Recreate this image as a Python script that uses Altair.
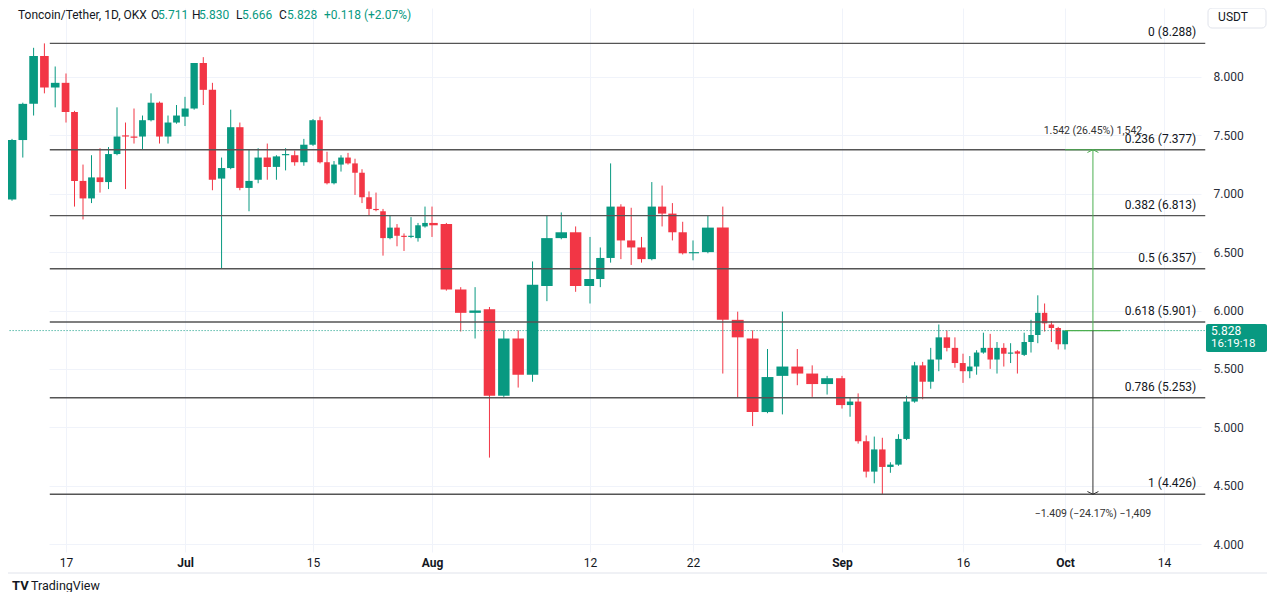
import altair as alt
import pandas as pd

# ---------------- data ----------------
first_day = "2024-06-12"
opens = [6.95, 7.46, 7.77, 8.18, 7.91, 7.95, 7.70, 7.11, 6.96, 7.14,
         7.10, 7.34, 7.50, 7.49, 7.49, 7.63, 7.78, 7.49, 7.61, 7.66,
         7.73, 8.12, 7.89, 7.13, 7.22, 7.57, 7.05, 7.12, 7.31, 7.23,
         7.33, 7.33, 7.27, 7.42, 7.63, 7.27, 7.09, 7.25, 7.31, 7.26,
         7.18, 6.97, 6.87, 6.85, 6.62, 6.71, 6.64, 6.63, 6.62, 6.72,
         6.75, 6.74, 6.18, 5.98, 6.01, 5.27, 5.76, 5.45, 6.21, 6.62,
         6.67, 6.21, 6.27, 6.45, 6.89, 6.60, 6.54, 6.44, 6.89, 6.83,
         6.67, 6.49, 6.50, 6.71, 5.92, 5.76, 5.13, 5.44, 5.52, 5.46,
         5.37, 5.42, 5.19, 5.22, 4.88, 4.62, 4.81, 4.66, 4.68, 4.90,
         5.22, 5.53, 5.39, 5.58, 5.77, 5.68, 5.55, 5.48, 5.52, 5.64,
         5.68, 5.58, 5.68, 5.63, 5.65, 5.62, 5.73, 5.79, 5.98, 5.88,
         5.85, 5.711]
highs = [7.47, 7.78, 8.25, 8.288, 8.09, 8.03, 7.71, 7.25, 7.33, 7.39,
         7.40, 7.74, 7.61, 7.73, 7.67, 7.86, 7.79, 7.67, 7.76, 7.83,
         8.12, 8.17, 7.95, 7.31, 7.72, 7.61, 7.38, 7.39, 7.43, 7.33,
         7.39, 7.37, 7.47, 7.64, 7.66, 7.36, 7.28, 7.33, 7.35, 7.30,
         7.21, 7.02, 7.01, 6.87, 6.81, 6.74, 6.66, 6.80, 6.75, 6.89,
         6.89, 6.75, 6.20, 6.20, 6.03, 5.83, 5.83, 6.42, 6.81, 6.84,
         6.72, 6.63, 6.54, 7.26, 6.91, 6.88, 6.63, 7.10, 7.07, 6.92,
         6.76, 6.60, 6.81, 6.89, 5.99, 5.83, 5.67, 5.99, 5.67, 5.53,
         5.44, 5.44, 5.25, 5.29, 4.93, 4.92, 4.91, 4.70, 4.94, 5.27,
         5.56, 5.56, 5.68, 5.88, 5.83, 5.77, 5.63, 5.61, 5.66, 5.81,
         5.80, 5.73, 5.72, 5.72, 5.66, 5.81, 5.92, 6.13, 6.06, 5.91,
         5.86, 5.830]
lows = [6.94, 7.31, 7.67, 7.86, 7.74, 7.61, 6.89, 6.78, 6.92, 7.01,
        7.04, 7.33, 7.04, 7.43, 7.38, 7.62, 7.43, 7.43, 7.60, 7.58,
        7.72, 7.76, 7.03, 6.36, 7.21, 7.03, 6.85, 7.09, 7.12, 7.12,
        7.20, 7.24, 7.24, 7.41, 7.26, 7.08, 7.08, 7.19, 7.25, 6.99,
        6.92, 6.81, 6.85, 6.47, 6.61, 6.55, 6.51, 6.62, 6.59, 6.71,
        6.63, 6.17, 5.82, 5.76, 4.74, 5.26, 5.34, 5.39, 6.08, 6.61,
        6.16, 6.06, 6.20, 6.41, 6.44, 6.39, 6.41, 6.43, 6.72, 6.60,
        6.48, 6.43, 6.49, 5.46, 5.25, 5.01, 5.12, 5.11, 5.36, 5.26,
        5.28, 5.16, 5.09, 4.86, 4.57, 4.52, 4.426, 4.61, 4.67, 4.89,
        5.21, 5.24, 5.33, 5.48, 5.65, 5.51, 5.38, 5.42, 5.45, 5.63,
        5.50, 5.46, 5.52, 5.55, 5.46, 5.61, 5.64, 5.72, 5.82, 5.73,
        5.666, 5.666]
closes = [7.46, 7.77, 8.18, 7.91, 7.95, 7.70, 7.11, 6.96, 7.14, 7.10,
          7.34, 7.49, 7.49, 7.48, 7.63, 7.78, 7.49, 7.61, 7.67, 7.73,
          8.12, 7.89, 7.12, 7.22, 7.57, 7.05, 7.11, 7.31, 7.23, 7.32,
          7.34, 7.27, 7.42, 7.63, 7.27, 7.09, 7.25, 7.31, 7.26, 7.18,
          6.97, 6.87, 6.86, 6.62, 6.71, 6.64, 6.63, 6.64, 6.73, 6.75,
          6.73, 6.18, 5.98, 6.00, 5.27, 5.76, 5.45, 6.22, 6.62, 6.67,
          6.21, 6.27, 6.45, 6.89, 6.60, 6.54, 6.44, 6.89, 6.83, 6.67,
          6.49, 6.50, 6.71, 5.92, 5.77, 5.13, 5.43, 5.52, 5.46, 5.37,
          5.42, 5.19, 5.22, 4.88, 4.62, 4.81, 4.66, 4.68, 4.90, 5.22,
          5.53, 5.39, 5.58, 5.77, 5.68, 5.55, 5.48, 5.52, 5.64, 5.68,
          5.58, 5.68, 5.63, 5.64, 5.63, 5.73, 5.79, 5.98, 5.89, 5.85,
          5.711, 5.828]
dates = pd.date_range(first_day, periods=len(opens), freq="D").strftime("%Y-%m-%d").tolist()

fib_levels = ["0", "0.236", "0.382", "0.5", "0.618", "0.786", "1"]
fib_prices = [8.288, 7.377, 6.813, 6.357, 5.901, 5.253, 4.426]
fib_start = "2024-06-15T12:00:00Z"
chart_start = "2024-06-11T12:00:00Z"
chart_end = "2024-10-19T10:00:00Z"

tick_dates = ["2024-06-17", "2024-07-01", "2024-07-15", "2024-08-01", "2024-08-12",
              "2024-08-22", "2024-09-01", "2024-09-16", "2024-10-01", "2024-10-14"]
price_ticks = [4.0, 4.5, 5.0, 5.5, 6.0, 6.5, 7.0, 7.5, 8.0]

last_price = 5.828
last_time = "16:19:18"
measure_at = "2024-10-04T16:00:00Z"
measure_from = "2024-10-01"
measure_to = "2024-10-08T06:00:00Z"
measure_up_price = 7.377
measure_down_price = 4.426
measure_up_text = "1.542 (26.45%) 1,542"
measure_down_text = "\u22121.409 (\u221224.17%) \u22121,409"
header_title = "Toncoin/Tether, 1D, OKX"
header_change = "+0.118 (+2.07%)"

# ---------------- styling ----------------
GREEN = "#089981"
RED = "#f23645"
DARK = "#131722"
GRID = "#f0f3fa"
FONT = "Roboto"
W, H = 1197, 544


def ms(s):
    ts = pd.Timestamp(s)
    if ts.tzinfo is None:
        ts = ts.tz_localize("UTC")
    return int(ts.value // 10**6)


# the picture's time axis is not evenly spaced: anchor it at its labelled days
anchor_dates = ["2024-06-12"] + tick_dates
anchor_px = [4, 58, 177, 305, 424, 582, 685, 834, 955, 1057, 1156]
x_scale = alt.Scale(type="linear", domain=[ms(s) for s in anchor_dates], range=anchor_px,
                    nice=False, zero=False)
y_scale = alt.Scale(domain=[3.9315, 8.591], nice=False, zero=False)

x_axis = alt.Axis(
    values=[ms(s) for s in tick_dates],
    labelExpr="utcdate(datum.value) == 1 ? utcFormat(datum.value, '%b') : utcFormat(datum.value, '%-d')",
    labelFontWeight={"condition": {"test": "utcdate(datum.value) == 1", "value": "bold"}, "value": "normal"},
    grid=True, gridColor=GRID, gridWidth=1, ticks=False, domain=False,
    labelColor=DARK, labelFontSize=12, labelFont=FONT, labelPadding=5,
    labelFlush=False, labelOverlap=False, title=None,
)
y_axis = alt.Axis(
    orient="right", values=price_ticks, format=".3f",
    grid=True, gridColor=GRID, gridWidth=1, ticks=False, domain=False,
    labelColor="#2a2e39", labelFontSize=12, labelFont=FONT, labelPadding=8, title=None,
)


def X(field):
    return alt.X(field, type="quantitative", scale=x_scale, axis=x_axis)


def Y(field):
    return alt.Y(field, type="quantitative", scale=y_scale, axis=y_axis)


candles = pd.DataFrame({"date": dates, "open": opens, "high": highs, "low": lows, "close": closes})
base = alt.Chart(candles).transform_calculate(
    t="time(toDate(datum.date))",
    t0="time(toDate(datum.date)) - 0.4*86400000",
    t1="time(toDate(datum.date)) + 0.4*86400000",
    dir="datum.close >= datum.open ? 'up' : 'down'",
)
color = alt.Color("dir:N", scale=alt.Scale(domain=["up", "down"], range=[GREEN, RED]), legend=None)

wicks = base.mark_rule(strokeWidth=1, clip=True).encode(
    x=X("t"), y=Y("low"), y2="high:Q", color=color,
)
bodies = base.mark_bar(clip=True, strokeWidth=0).encode(
    x=X("t0"), x2="t1:Q", y=Y("open"), y2="close:Q", color=color,
)

# Fibonacci retracement
fib = pd.DataFrame({"level": fib_levels, "price": fib_prices, "start": fib_start, "end": chart_end})
fib_base = alt.Chart(fib).transform_calculate(
    xs="time(toDate(datum.start))",
    xe="time(toDate(datum.end))",
    label="datum.level + ' (' + format(datum.price, '.3f') + ')'",
)
fib_lines = fib_base.mark_rule(color="#555555", strokeWidth=1.4).encode(
    x=X("xs"), x2="xe:Q", y=Y("price"),
)
fib_text = fib_base.mark_text(align="right", baseline="middle", dx=-9, dy=-11,
                              fontSize=12, font=FONT, color=DARK).encode(
    x=X("xe"), y=Y("price"), text="label:N",
)

# last price dotted line
lp = pd.DataFrame({"price": [last_price], "a": [chart_start], "b": [chart_end]})
last_line = alt.Chart(lp).transform_calculate(
    xa="time(toDate(datum.a))", xb="time(toDate(datum.b))"
).mark_rule(color=GREEN, strokeWidth=1, strokeDash=[1, 2], clip=True).encode(
    x=X("xa"), x2="xb:Q", y=Y("price"),
)

# measurement tool
mdf = pd.DataFrame({"m": [measure_at], "a": [measure_from], "b": [measure_to],
                    "p0": [last_price], "p1": [measure_up_price], "p2": [measure_down_price],
                    "up": [measure_up_text], "down": [measure_down_text]})
mbase = alt.Chart(mdf).transform_calculate(
    xm="time(toDate(datum.m))", xa="time(toDate(datum.a))", xb="time(toDate(datum.b))"
)
MGREEN = "#4caf50"
m_up = mbase.mark_rule(color=MGREEN, strokeWidth=1).encode(x=X("xm"), y=Y("p0"), y2="p1:Q")
m_top = mbase.mark_rule(color=MGREEN, strokeWidth=1.2).encode(x=X("xa"), x2="xb:Q", y=Y("p1"))
m_base = mbase.mark_rule(color=MGREEN, strokeWidth=1.2).encode(x=X("xa"), x2="xb:Q", y=Y("p0"))
m_down = mbase.mark_rule(color="#333333", strokeWidth=1).encode(x=X("xm"), y=Y("p0"), y2="p2:Q")
m_head_up = mbase.mark_point(shape="M -1 0.5 L 0 0 L 1 0.5", size=121, filled=False,
                             color=MGREEN, strokeWidth=1, opacity=1).encode(x=X("xm"), y=Y("p1"))
m_head_down = mbase.mark_point(shape="M -1 -0.5 L 0 0 L 1 -0.5", size=121, filled=False,
                               color="#333333", strokeWidth=1, opacity=1).encode(x=X("xm"), y=Y("p2"))
m_up_text = mbase.mark_text(baseline="middle", dy=-19, fontSize=10.5, font=FONT,
                            color="#333333").encode(x=X("xm"), y=Y("p1"), text="up:N")
m_down_text = mbase.mark_text(baseline="middle", dy=20, fontSize=10.5, font=FONT,
                              color="#333333").encode(x=X("xm"), y=Y("p2"), text="down:N")


# ---------------- annotations (header, boxes, logo) ----------------
def label(txt, x, y, color=DARK, size=12, weight="normal", align="left"):
    return alt.Chart(pd.DataFrame({"s": [txt]})).mark_text(
        align=align, baseline="middle", fontSize=size, font=FONT, color=color, fontWeight=weight
    ).encode(x=alt.value(x), y=alt.value(y), text="s:N")


def box(x0, x1, y0, y1, fill, stroke=None, radius=2):
    kw = dict(fill=fill, cornerRadius=radius)
    if stroke:
        kw.update(stroke=stroke, strokeWidth=1)
    return alt.Chart(pd.DataFrame({"k": [0]})).mark_rect(**kw).encode(
        x=alt.value(x0), x2=alt.value(x1), y=alt.value(y0), y2=alt.value(y1))


header = [
    label(header_title, 10, 7),
    label("O", 143, 7), label(f"{opens[-1]:.3f}", 150, 7, GREEN),
    label("H", 184, 7), label(f"{highs[-1]:.3f}", 191, 7, GREEN),
    label("L", 228, 7), label(f"{lows[-1]:.3f}", 234, 7, GREEN),
    label("C", 271, 7), label(f"{closes[-1]:.3f}", 279, 7, GREEN),
    label(header_change, 316, 7, GREEN),
]
usdt = [box(1200, 1258, 0, 20, "white", "#e0e3eb", 4), label("USDT", 1225, 9, align="center")]
price_box = [box(1198, 1259, 316, 344, GREEN, None, 2),
             label(f"{last_price:.3f}", 1203, 323, "white"),
             label(last_time, 1203, 336, "white", 11.5)]
bottom_line = alt.Chart(pd.DataFrame({"k": [0]})).mark_rule(color="#e0e3eb").encode(
    x=alt.value(0), x2=alt.value(1259), y=alt.value(565))
logo = [label("TV", 4, 578, DARK, 13, "bold"), label("TradingView", 23, 578, DARK, 12.5)]

chart = alt.layer(
    wicks, bodies, last_line, fib_lines, fib_text,
    m_base, m_top, m_up, m_down, m_head_up, m_head_down, m_up_text, m_down_text,
    *header, *usdt, *price_box, bottom_line, *logo,
).properties(
    width=W, height=H,
    autosize=alt.AutoSizeParams(type="none"),
    padding={"left": 0, "top": 0, "right": 63, "bottom": 40},
    background="white",
).configure_view(stroke=None).configure_text(font=FONT)

chart.save("out.html", embed_options={"renderer": "svg", "actions": False})
